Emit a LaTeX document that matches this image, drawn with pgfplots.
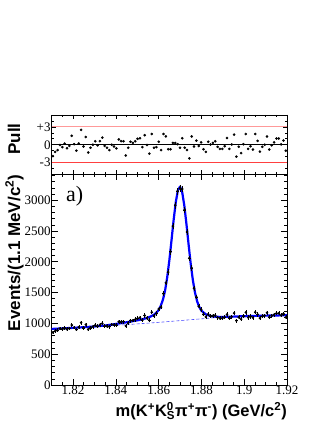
\documentclass[border=0pt]{standalone}
\usepackage{fontspec}
\setmainfont{Liberation Serif}
\setsansfont{Liberation Sans}
\usepackage{pgfplots}
\pgfplotsset{compat=1.18}
\usepackage{pgfplotstable}

% bins of 1.1 MeV: centre, entries, error, pull
\pgfplotstableread{
m n e p
1.81055 854 29 -1.9
1.81165 877 30 -1.2
1.81275 888 30 -0.9
1.81385 915 30 -0.05
1.81495 907 30 -0.4
1.81605 927 30 0.2
1.81715 905 30 -0.6
1.81825 919 30 -0.2
1.81935 973 31 1.5
1.82045 932 31 0.1
1.82155 900 30 -1.0
1.82265 939 31 0.2
1.82375 1012 32 2.5
1.82485 929 30 -0.3
1.82595 980 31 1.3
1.82705 902 30 -1.3
1.82815 929 30 -0.5
1.82925 947 31 0
1.83035 970 31 0.6
1.83145 952 31 -0.1
1.83255 977 31 0.6
1.83365 999 32 1.2
1.83475 959 31 -0.2
1.83585 954 31 -0.5
1.83695 948 31 -0.9
1.83805 981 31 0
1.83915 978 31 -0.3
1.84025 973 31 -0.6
1.84135 1026 32 0.9
1.84245 1023 32 0.6
1.84355 1029 32 0.6
1.84465 959 31 -1.8
1.84575 1007 32 -0.5
1.84685 1046 32 0.5
1.84795 1047 32 0.3
1.84905 1063 33 0.6
1.85015 1082 33 1.0
1.85125 1093 33 1.1
1.85235 1053 32 -0.4
1.85345 1128 34 1.6
1.85455 1086 33 -0.05
1.85565 1051 32 -1.5
1.85675 1180 34 1.8
1.85785 1123 34 -0.5
1.85895 1161 34 -0.4
1.86005 1235 35 0.5
1.86115 1263 36 -0.9
1.86225 1483 39 1.8
1.86335 1657 41 1.4
1.86445 1833 43 -0.75
1.86555 2164 47 -0.75
1.86665 2578 51 0.3
1.86775 2918 54 0.3
1.86885 3146 56 0.1
1.86995 3192 56 -0.5
1.87105 3182 56 1.1
1.87215 2843 53 -0.5
1.87325 2484 50 -0.9
1.87435 2057 45 -2.3
1.87545 1897 44 1.4
1.87655 1570 40 -0.3
1.87765 1427 38 0.7
1.87875 1278 36 -0.2
1.87985 1228 35 0.4
1.88095 1146 34 -0.75
1.88205 1105 33 -1.2
1.88315 1148 34 0.5
1.88425 1122 33 0.05
1.88535 1124 34 0.3
1.88645 1130 34 0.6
1.88755 1094 33 -0.35
1.88865 1082 33 -0.7
1.88975 1082 33 -0.7
1.89085 1098 33 -0.25
1.89195 1144 34 1.15
1.89305 1084 33 -0.7
1.89415 1110 33 0.05
1.89525 1167 34 1.7
1.89635 1045 32 -2.0
1.89745 1101 33 -0.35
1.89855 1068 33 -1.4
1.89965 1120 33 0.1
1.90075 1178 34 1.8
1.90185 1096 33 -0.7
1.90295 1112 33 -0.25
1.90405 1094 33 -0.8
1.90515 1182 34 1.8
1.90625 1145 34 0.65
1.90735 1086 33 -1.15
1.90845 1113 33 -0.35
1.90955 1126 34 0
1.91065 1173 34 1.4
1.91175 1100 33 -0.8
1.91285 1125 34 -0.1
1.91395 1141 34 0.4
1.91505 1164 34 1.05
1.91615 1165 34 1.05
1.91725 1132 34 0.05
1.91835 1155 34 0.7
1.91945 1098 33 -1.0
}\dkdata

% total fit
\pgfplotstableread{
m f
1.810 910
1.815 919
1.820 928
1.825 938
1.830 950
1.835 966
1.840 991
1.845 1018
1.848 1037
1.851 1056
1.854 1082
1.856 1108
1.858 1144
1.860 1214
1.861 1288
1.862 1385
1.863 1533
1.864 1748
1.865 2024
1.866 2346
1.867 2678
1.868 2967
1.869 3161
1.870 3220
1.871 3130
1.872 2912
1.873 2610
1.874 2279
1.875 1964
1.876 1700
1.877 1499
1.878 1357
1.879 1265
1.880 1206
1.882 1148
1.884 1121
1.886 1110
1.888 1106
1.890 1105
1.895 1110
1.900 1117
1.905 1122
1.910 1126
1.915 1129
1.920 1132
}\fitcurve

% background component
\pgfplotstableread{
m b
1.810 910
1.815 919
1.820 928
1.825 938
1.830 948
1.835 958
1.840 969
1.845 980
1.850 992
1.855 1004
1.860 1017
1.865 1031
1.870 1045
1.875 1060
1.880 1074
1.885 1089
1.890 1101
1.895 1110
1.900 1117
1.905 1122
1.910 1126
1.915 1129
1.920 1132
}\bgcurve

\pgfplotsset{
  rootframe/.style={
    scale only axis, width=235.3pt,
    xmin=1.81, xmax=1.92,
    axis line style={line width=0.7pt},
    tick align=inside, xtick pos=both, ytick pos=both,
    every tick/.style={black, line width=0.6pt},
    tick label style={font=\fontsize{13}{13}\selectfont},
    /pgf/number format/assume math mode=true,
    xtick={1.82,1.84,1.86,1.88,1.9,1.92},
    minor xtick={1.81,1.815,1.82,1.825,1.83,1.835,1.84,1.845,1.85,1.855,1.86,1.865,1.87,1.875,1.88,1.885,1.89,1.895,1.9,1.905,1.91,1.915,1.92},
    clip=false,
  },
}

\begin{document}
\begin{tikzpicture}[x=1pt,y=1pt]
\path[use as bounding box] (0,0) rectangle (327,423);

% main panel
\begin{axis}[rootframe,
  at={(51.7pt,38pt)}, anchor=south west, height=210.5pt,
  ymin=0, ymax=3417,
  ytick={0,500,1000,1500,2000,2500,3000},
  yticklabels={0,500,1000,1500,2000,2500,3000},
  minor ytick={100,200,300,400,600,700,800,900,1100,1200,1300,1400,1600,1700,1800,1900,2100,2200,2300,2400,2600,2700,2800,2900,3100,3200,3300,3400},
  xticklabels={1.82,1.84,1.86,1.88,1.9,1.92},
  major tick length=6pt, minor tick length=3pt,
  yticklabel style={inner xsep=1pt},
  xticklabel style={inner ysep=0.5pt},
]
\addplot[blue!70, densely dashed, line width=0.6pt] table[x=m, y=b] {\bgcurve};
\addplot[blue, line width=2.2pt, line join=round] table[x=m, y=f] {\fitcurve};
\addplot[black, only marks, mark=*, mark size=1.1pt,
  error bars/.cd, y dir=both, y explicit, x dir=both, x explicit,
  error mark=none, error bar style={line width=0.5pt}]
  table[x=m, y=n, y error=e, x error expr=0.00055] {\dkdata};
\end{axis}

% pull panel
\begin{axis}[rootframe,
  at={(51.7pt,248.5pt)}, anchor=south west, height=59.5pt,
  ymin=-5, ymax=5,
  ytick={-3,0,3}, yticklabels={-3,0,+3},
  minor ytick={-4,-2,-1,1,2,4},
  xticklabels={},
  major tick length=4pt, minor tick length=2.5pt,
  yticklabel style={inner xsep=1pt},
]
\addplot[red!40, line width=1.1pt] coordinates {(1.81,3) (1.92,3)};
\addplot[red!75, line width=1.1pt] coordinates {(1.81,-3) (1.92,-3)};
\addplot[black, line width=0.6pt] coordinates {(1.81,0) (1.92,0)};
\addplot[black, only marks, mark=*, mark size=1.1pt] table[x=m, y=p] {\dkdata};
\end{axis}

% labels
\node[anchor=base east, inner sep=0pt, font=\sffamily\bfseries\fontsize{16.5}{16.5}\selectfont]
  at (287,6.5) {m(K\textsuperscript{+}K\rlap{\textsuperscript{0}}\textsubscript{S}π\textsuperscript{+}π\textsuperscript{-}) (GeV/c\textsuperscript{2})};
\node[rotate=90, anchor=base east, inner sep=0pt, font=\sffamily\bfseries\fontsize{17}{17}\selectfont]
  at (20,248.5) {Events/(1.1 MeV/c\textsuperscript{2})};
\node[rotate=90, anchor=base, inner sep=0pt, font=\sffamily\bfseries\fontsize{17}{17}\selectfont]
  at (20,284) {Pull};
\node[anchor=base west, inner sep=0pt, font=\fontsize{22}{22}\selectfont] at (66,221) {a)};
\end{tikzpicture}
\end{document}
